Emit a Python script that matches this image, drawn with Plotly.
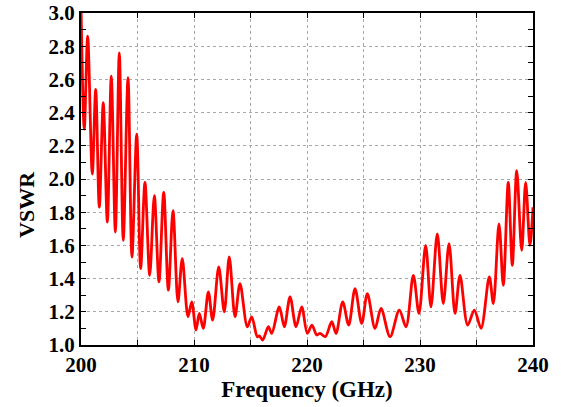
import plotly.graph_objects as go

freq = [200.0, 200.29, 200.59, 201.0, 201.3, 201.62, 201.97, 202.33, 202.68, 203.04,
        203.39, 203.74, 204.16, 204.51, 204.93, 205.28, 205.66, 206.08, 206.49, 206.9,
        207.32, 207.73, 208.14, 208.58, 208.96, 209.47, 209.8, 210.18, 210.47, 210.82,
        211.27, 211.65, 212.19, 212.68, 213.12, 213.63, 214.07, 214.72, 215.11, 215.6,
        215.78, 216.08, 216.58, 216.88, 217.55, 217.99, 218.5, 219.03, 219.53, 220.03,
        220.44, 220.86, 221.15, 221.62, 222.19, 222.57, 223.16, 223.69, 224.25, 224.84,
        225.34, 226.02, 226.55, 227.35, 228.17, 228.76, 229.41, 229.91, 230.5, 230.97,
        231.53, 232.06, 232.57, 233.1, 233.54, 234.22, 234.81, 235.4, 236.13, 236.49,
        236.99, 237.37, 237.81, 238.17, 238.56, 239.0, 239.35, 239.73, 240.0]
vswr = [3.05, 2.30, 2.86, 2.03, 2.54, 1.83, 2.46, 1.74, 2.62, 1.68,
        2.76, 1.63, 2.61, 1.53, 2.27, 1.46, 1.98, 1.42, 1.90, 1.38,
        1.92, 1.33, 1.81, 1.26, 1.52, 1.17, 1.26, 1.09, 1.19, 1.10,
        1.32, 1.15, 1.47, 1.20, 1.53, 1.17, 1.37, 1.11, 1.17, 1.05,
        1.055, 1.03, 1.11, 1.07, 1.23, 1.11, 1.29, 1.11, 1.23, 1.07,
        1.12, 1.06, 1.07, 1.05, 1.14, 1.07, 1.26, 1.12, 1.34, 1.13,
        1.31, 1.10, 1.22, 1.05, 1.21, 1.11, 1.42, 1.19, 1.60, 1.23,
        1.67, 1.25, 1.61, 1.19, 1.42, 1.12, 1.21, 1.10, 1.41, 1.25,
        1.73, 1.36, 1.98, 1.48, 2.05, 1.57, 1.98, 1.60, 1.83]

x_title = "Frequency (GHz)"
y_title = "VSWR"

font_family = "Liberation Serif"
grid_col = "#a8a8a8"

fig = go.Figure()
fig.add_trace(go.Scatter(
    x=freq, y=vswr, mode="lines",
    line=dict(color="#FF0000", width=2.8, shape="spline", smoothing=0.9),
    showlegend=False, hoverinfo="skip",
))

axis_common = dict(
    showline=True, linecolor="black", linewidth=2, mirror="ticks",
    ticks="inside", ticklen=5, tickcolor="black", tickwidth=1,
    showgrid=True, gridcolor=grid_col, griddash="dot", gridwidth=1,
    zeroline=False, automargin=False,
    tickfont=dict(family=font_family, size=21, color="black", weight="bold"),
)

fig.update_xaxes(
    range=[200, 240], dtick=10, tick0=200,
    minor=dict(dtick=5, ticks="inside", ticklen=5, tickcolor="black",
               showgrid=True, gridcolor=grid_col, griddash="dot"),
    title=dict(text="<b>" + x_title + "</b>",
               font=dict(family=font_family, size=23, color="black"), standoff=2),
    **axis_common,
)
fig.update_yaxes(
    range=[1.0, 3.0], dtick=0.2, tick0=1.0, tickformat=".1f",
    minor=dict(dtick=0.1, ticks="inside", ticklen=5, tickcolor="black", showgrid=False),
    **axis_common,
)

fig.add_annotation(
    text="<b>" + y_title + "</b>", textangle=-90,
    xref="paper", yref="paper", x=-0.1195, y=0.4247,
    xanchor="center", yanchor="middle", showarrow=False,
    font=dict(family=font_family, size=22, color="black"),
)

fig.update_layout(
    width=561, height=407,
    margin=dict(l=81, r=28, t=13, b=62),
    plot_bgcolor="white", paper_bgcolor="white",
)

fig.write_html(
    "out.html",
    config={"displayModeBar": False},
    post_script="document.body.style.margin='0';document.body.style.overflow='hidden';",
)
